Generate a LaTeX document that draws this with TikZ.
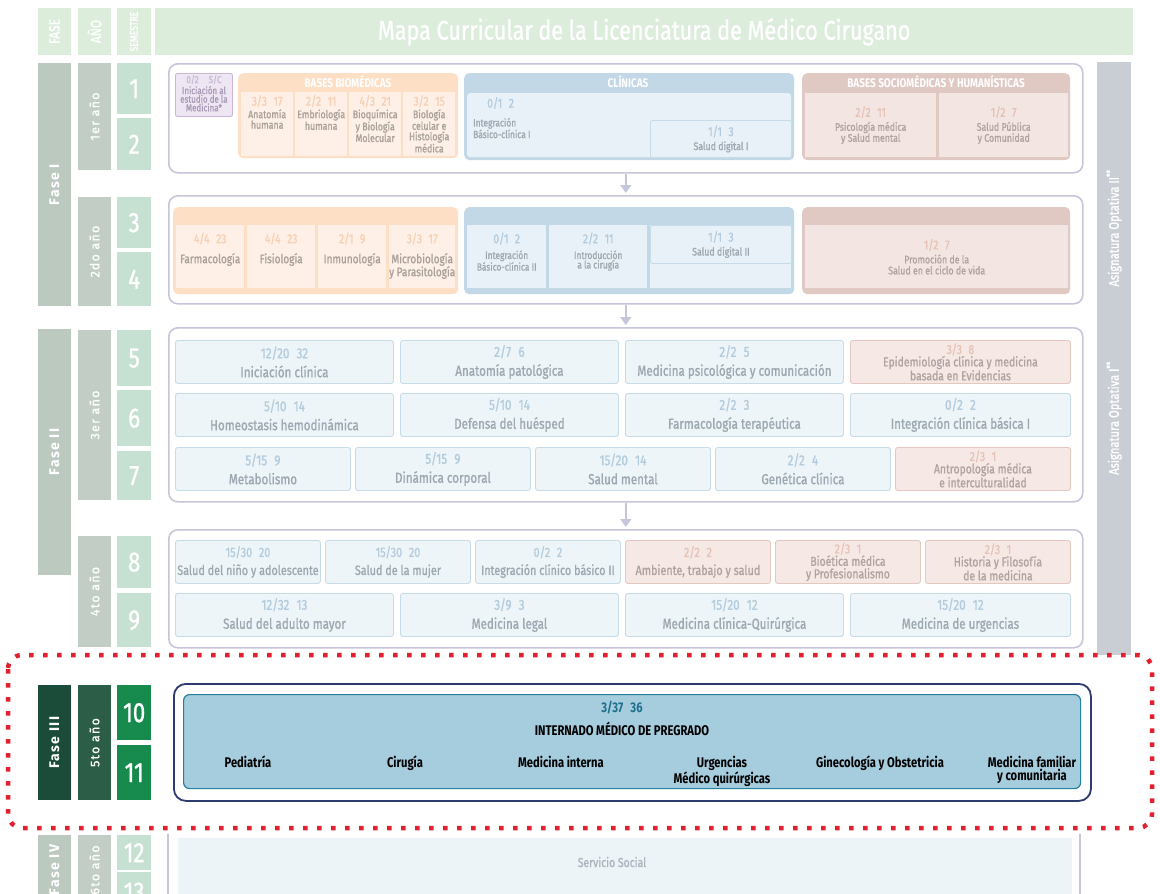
\documentclass[tikz,border=0pt]{standalone}
\usepackage{fontspec}
\setmainfont{Fira Sans}[FakeStretch=0.8,UprightFeatures={FakeBold=1}]
\newfontfamily\fasefont{Fira Sans}[LetterSpace=10,UprightFeatures={FakeBold=0.8}]
\usetikzlibrary{arrows.meta}

\definecolor{hdrgreen}{HTML}{DCEDDC}
\definecolor{fasegray}{HTML}{BCC9BF}
\definecolor{anogray}{HTML}{C2CEC5}
\definecolor{semgreen}{HTML}{C6E1D2}
\definecolor{blockline}{HTML}{C6C6DA}
\definecolor{optgray}{HTML}{C9CED4}
\definecolor{cellblue}{HTML}{EDF5F9}
\definecolor{lineblue}{HTML}{C7DCE9}
\definecolor{numblue}{HTML}{B3CBDD}
\definecolor{txtgray}{HTML}{9DA7B0}
\definecolor{cellpink}{HTML}{F6E8E4}
\definecolor{linepink}{HTML}{E4C7BE}
\definecolor{numpink}{HTML}{E6C2B6}
\definecolor{txtpink}{HTML}{B0A29E}
\definecolor{orghead}{HTML}{FDDFC6}
\definecolor{orgcell}{HTML}{FEF0E6}
\definecolor{numorg}{HTML}{F7D0B4}
\definecolor{txtorg}{HTML}{A8A099}
\definecolor{clinhead}{HTML}{C3D8E7}
\definecolor{clinbody}{HTML}{E8F1F7}
\definecolor{sochead}{HTML}{E0C9C2}
\definecolor{socbody}{HTML}{F3E6E2}
\definecolor{purplecell}{HTML}{EEE6F2}
\definecolor{purpleline}{HTML}{C9B7D8}
\definecolor{purpletxt}{HTML}{A89AB6}
\definecolor{purplenum}{HTML}{C6B8D3}
\definecolor{fasedark}{HTML}{1A4C39}
\definecolor{anodark}{HTML}{2B5D47}
\definecolor{semdark}{HTML}{178A4E}
\definecolor{intfill}{HTML}{A6CDDD}
\definecolor{intline}{HTML}{24809D}
\definecolor{intnum}{HTML}{1F6F8F}
\definecolor{navyline}{HTML}{2E3B6E}
\definecolor{dotred}{HTML}{E2202F}
\definecolor{servfill}{HTML}{EDF4F8}
\definecolor{servtxt}{HTML}{AAB4BC}

\newcommand{\nb}[1]{\textcolor{numblue}{#1}}
\newcommand{\np}[1]{\textcolor{numpink}{#1}}
\newcommand{\no}[1]{\textcolor{numorg}{#1}}
\newcommand{\bignum}[1]{{\fontsize{13}{13}\selectfont#1}}
\newcommand{\topcell}[3]{\parbox[t][#2][t]{#1}{\centering #3}}

\tikzset{
	pbox/.style 2 args={minimum width=#1pt,minimum height=#2pt,anchor=north west,inner sep=0pt},
	hdr/.style={fill=hdrgreen,text=white,inner sep=0pt},
	fasecol/.style={fill=fasegray,text=white,rotate=90,minimum height=33pt,inner sep=0pt,font=\fasefont\bfseries\fontsize{14}{14}\selectfont},
	anocol/.style={fill=anogray,text=white,rotate=90,minimum height=33pt,inner sep=0pt,font=\fasefont\fontsize{12.5}{12.5}\selectfont},
	semnum/.style={fill=semgreen,text=white,font=\fontsize{28}{28}\selectfont},
	yearbox/.style={draw=blockline,line width=1.6pt,rounded corners=9pt,fill=white},
	bcell/.style={draw=lineblue,fill=cellblue,line width=0.9pt,rounded corners=2.5pt,text=txtgray,align=center,font=\fontsize{14.5}{15}\selectfont},
	pcell/.style={bcell,draw=linepink,fill=cellpink,text=txtpink,font=\fontsize{13}{12.5}\selectfont},
	ocell/.style={fill=orgcell,text=txtorg,font=\fontsize{11}{10.5}\selectfont},
	ccell/.style={fill=clinbody,text=txtgray,font=\fontsize{10.5}{9.5}\selectfont},
	scell/.style={fill=socbody,text=txtpink,align=center,font=\fontsize{11}{11}\selectfont},
	ghead/.style={text=white,font=\bfseries\fontsize{12.5}{12.5}\selectfont,inner sep=0pt},
	arr/.style={draw=blockline,line width=1.6pt,-{Triangle[width=11pt,length=8pt]},shorten >=2pt},
	intname/.style={anchor=north,align=center,font=\bfseries\fontsize{14}{13}\selectfont,inner sep=0pt}
}

\begin{document}
\begin{tikzpicture}[x=1pt,y=-1pt]
	\useasboundingbox (0,0) rectangle (1160,894);
	\clip (0,0) rectangle (1160,894);
	% header
	\node[hdr,rotate=90,minimum width=47pt,minimum height=33pt,font=\fontsize{15}{15}\selectfont] (hfase) at (54.5,31.5) {FASE};
	\node[hdr,rotate=90,minimum width=47pt,minimum height=33pt,font=\fontsize{15}{15}\selectfont] (hano) at (94.5,31.5) {AÑO};
	\node[hdr,rotate=90,minimum width=47pt,minimum height=34pt,font=\fontsize{11}{11}\selectfont] (hsem) at (134,31.5) {SEMESTRE};
	\node[hdr,pbox={978}{47},font=\fontsize{27}{27}\selectfont] (htitle) at (155,8) {Mapa Curricular de la Licenciatura de Médico Cirugano};
	% left columns
	\node[fasecol,minimum width=243pt] (fase1) at (54.5,184.5) {Fase I};
	\node[fasecol,minimum width=246pt] (fase2) at (54.5,452) {Fase II};
	\node[anocol,minimum width=107pt] (ano1) at (94.5,116.5) {1er año};
	\node[anocol,minimum width=109pt] (ano2) at (94.5,251.5) {2do año};
	\node[anocol,minimum width=170pt] (ano3) at (94.5,415) {3er año};
	\node[anocol,minimum width=111pt] (ano4) at (94.5,591.5) {4to año};
	\foreach \s/\y/\h in {1/63/51,2/118/52,3/197/51,4/252/54,5/330/56,6/390/56,7/451/49,8/536/52,9/593/54}
		\node[semnum,pbox={34}{\h}] (sem\s) at (117,\y) {\s};
	% optativas
	\node[fill=optgray,pbox={34}{593}] (optcol) at (1097,62) {};
	\node[rotate=90,text=white,font=\fontsize{14}{14}\selectfont] (opt2) at (1114,228) {Asignatura Optativa II\textsuperscript{**}};
	\node[rotate=90,text=white,font=\fontsize{14}{14}\selectfont] (opt1) at (1114,418) {Asignatura Optativa I\textsuperscript{**}};
	% year blocks
	\node[yearbox,pbox={914}{109}] (year1) at (168,63) {};
	\node[yearbox,pbox={914}{108}] (year2) at (168,195) {};
	\node[yearbox,pbox={914}{174}] (year3) at (168,327) {};
	\node[yearbox,pbox={914}{118}] (year4) at (168,529) {};
	\draw[arr] (year1.south) -- (year2.north);
	\draw[arr] (year2.south) -- (year3.north);
	\draw[arr] (year3.south) -- (year4.north);
	% 1er ano
	\node[draw=purpleline,fill=purplecell,line width=0.9pt,rounded corners=2pt,pbox={57}{43},text=purpletxt,font=\fontsize{10}{8.6}\selectfont] (inic) at (175,73) {\topcell{55pt}{40pt}{\textcolor{purplenum}{0/2\quad S/C}\\[1pt] Iniciación al\\estudio de la\\Medicina*}};
	\node[fill=orghead,rounded corners=5pt,pbox={220}{85}] (bbio1) at (238,73) {};
	\node[ghead] (bbio1h) at (348,81.5) {BASES BIOMÉDICAS};
	\node[ocell,pbox={52}{64}] (anat) at (241,92) {\topcell{50pt}{58pt}{\no{\bignum{3/3\enspace 17}}\\[2pt] Anatomía\\humana}};
	\node[ocell,pbox={52}{64}] (embr) at (295,92) {\topcell{50pt}{58pt}{\no{\bignum{2/2\enspace 11}}\\[2pt] Embriología\\humana}};
	\node[ocell,pbox={52}{64}] (bioq) at (349,92) {\topcell{50pt}{58pt}{\no{\bignum{4/3\enspace 21}}\\[2pt] Bioquímica\\y Biología\\Molecular}};
	\node[ocell,pbox={52}{64}] (biol) at (403,92) {\topcell{50pt}{58pt}{\no{\bignum{3/2\enspace 15}}\\[2pt] Biología\\celular e\\Histología\\médica}};
	\node[fill=clinhead,rounded corners=5pt,pbox={330}{87}] (clin1) at (464,73) {};
	\node[fill=clinbody,rounded corners=3pt,pbox={324}{64}] (clin1b) at (467,93) {};
	\node[ghead] (clin1h) at (628,81.5) {CLÍNICAS};
	\node[anchor=north west,align=left,text=txtgray,font=\fontsize{10.5}{9.5}\selectfont,inner sep=0pt] (ibc1) at (473,97) {\hspace*{14pt}\nb{\bignum{0/1\enspace 2}}\\[8pt] Integración\\Básico-clínica I};
	\node[draw=lineblue,fill=clinbody,line width=0.9pt,rounded corners=2pt,pbox={141}{37},text=txtgray,align=center,font=\fontsize{11}{11}\selectfont] (sdig1) at (650,120) {\nb{\bignum{1/1\enspace 3}}\\[3pt] Salud digital I};
	\node[fill=sochead,rounded corners=5pt,pbox={268}{87}] (soc1) at (802,73) {};
	\node[ghead] (soc1h) at (936,82) {BASES SOCIOMÉDICAS Y HUMANÍSTICAS};
	\node[scell,pbox={131}{64}] (psic) at (805,93) {\np{\bignum{2/2\enspace 11}}\\[3pt] Psicología médica\\y Salud mental};
	\node[scell,pbox={129}{64}] (spub) at (939,93) {\np{\bignum{1/2\enspace 7}}\\[3pt] Salud Pública\\y Comunidad};
	% 2do ano
	\node[fill=orghead,rounded corners=5pt,pbox={285}{87}] (bbio2) at (173,207) {};
	\node[ocell,pbox={68}{63},font=\fontsize{12.5}{13}\selectfont] (farm) at (176,225) {\topcell{66pt}{48pt}{\no{\bignum{4/4\enspace 23}}\\[7pt] Farmacología}};
	\node[ocell,pbox={68}{63},font=\fontsize{12.5}{13}\selectfont] (fisi) at (247,225) {\topcell{66pt}{48pt}{\no{\bignum{4/4\enspace 23}}\\[7pt] Fisiología}};
	\node[ocell,pbox={68}{63},font=\fontsize{12.5}{13}\selectfont] (inmu) at (318,225) {\topcell{66pt}{48pt}{\no{\bignum{2/1\enspace 9}}\\[7pt] Inmunología}};
	\node[ocell,pbox={66}{63},font=\fontsize{12.5}{13}\selectfont] (micr) at (389,225) {\topcell{66pt}{48pt}{\no{\bignum{3/3\enspace 17}}\\[7pt] Microbiología\\y Parasitología}};
	\node[fill=clinhead,rounded corners=5pt,pbox={330}{87}] (clin2) at (464,207) {};
	\node[ccell,pbox={79}{63}] (ibc2) at (467,225) {\topcell{77pt}{48pt}{\nb{\bignum{0/1\enspace 2}}\\[5pt] Integración\\Básico-clínica II}};
	\node[ccell,pbox={98}{63}] (intc) at (549,225) {\topcell{96pt}{48pt}{\nb{\bignum{2/2\enspace 11}}\\[5pt] Introducción\\a la cirugía}};
	\node[ccell,pbox={141}{63}] (sdig2b) at (650,225) {};
	\node[draw=lineblue,fill=clinbody,line width=0.9pt,rounded corners=2pt,pbox={141}{38},text=txtgray,align=center,font=\fontsize{11}{11}\selectfont] (sdig2) at (650,225) {\nb{\bignum{1/1\enspace 3}}\\[3pt] Salud digital II};
	\node[fill=sochead,rounded corners=5pt,pbox={268}{87}] (soc2) at (802,207) {};
	\node[scell,pbox={263}{63}] (prom) at (805,225) {\np{\bignum{1/2\enspace 7}}\\[3pt] Promoción de la\\Salud en el ciclo de vida};
	% 3er ano
	\node[bcell,pbox={218}{43}] (inicl) at (175,340) {\nb{12/20\enspace 32}\\[4pt] Iniciación clínica};
	\node[bcell,pbox={218}{43}] (anpat) at (400,340) {\nb{2/7\enspace 6}\\[4pt] Anatomía patológica};
	\node[bcell,pbox={218}{43}] (medps) at (625,340) {\nb{2/2\enspace 5}\\[4pt] Medicina psicológica y comunicación};
	\node[pcell,pbox={220}{43}] (epid) at (850,340) {\np{3/3\enspace 8}\\ Epidemiología clínica y medicina\\basada en Evidencias};
	\node[bcell,pbox={218}{43}] (homeo) at (175,393) {\nb{5/10\enspace 14}\\[4pt] Homeostasis hemodinámica};
	\node[bcell,pbox={218}{43}] (defen) at (400,393) {\nb{5/10\enspace 14}\\[4pt] Defensa del huésped};
	\node[bcell,pbox={218}{43}] (farte) at (625,393) {\nb{2/2\enspace 3}\\[4pt] Farmacología terapéutica};
	\node[bcell,pbox={220}{43}] (intcb1) at (850,393) {\nb{0/2\enspace 2}\\[4pt] Integración clínica básica I};
	\node[bcell,pbox={175}{43}] (metab) at (175,447) {\nb{5/15\enspace 9}\\[4pt] Metabolismo};
	\node[bcell,pbox={175}{43}] (dinco) at (355,447) {\nb{5/15\enspace 9}\\[4pt] Dinámica corporal};
	\node[bcell,pbox={175}{43}] (salme) at (535,447) {\nb{15/20\enspace 14}\\[4pt] Salud mental};
	\node[bcell,pbox={175}{43}] (genet) at (715,447) {\nb{2/2\enspace 4}\\[4pt] Genética clínica};
	\node[pcell,pbox={175}{43}] (antro) at (895,447) {\np{2/3\enspace 1}\\ Antropología médica\\e interculturalidad};
	% 4to ano
	\node[bcell,pbox={145}{43},font=\fontsize{13.5}{14}\selectfont] (nino) at (175,540) {\nb{15/30\enspace 20}\\[4pt] Salud del niño y adolescente};
	\node[bcell,pbox={145}{43},font=\fontsize{13.5}{14}\selectfont] (mujer) at (325,540) {\nb{15/30\enspace 20}\\[4pt] Salud de la mujer};
	\node[bcell,pbox={145}{43},font=\fontsize{13.5}{14}\selectfont] (intcb2) at (475,540) {\nb{0/2\enspace 2}\\[4pt] Integración clínico básico II};
	\node[pcell,pbox={145}{43},font=\fontsize{13.5}{14}\selectfont] (ambie) at (625,540) {\np{2/2\enspace 2}\\[4pt] Ambiente, trabajo y salud};
	\node[pcell,pbox={145}{43}] (bioet) at (775,540) {\np{2/3\enspace 1}\\ Bioética médica\\y Profesionalismo};
	\node[pcell,pbox={145}{43}] (histo) at (925,540) {\np{2/3\enspace 1}\\ Historia y Filosofía\\de la medicina};
	\node[bcell,pbox={218}{43}] (adult) at (175,593) {\nb{12/32\enspace 13}\\[4pt] Salud del adulto mayor};
	\node[bcell,pbox={218}{43}] (legal) at (400,593) {\nb{3/9\enspace 3}\\[4pt] Medicina legal};
	\node[bcell,pbox={218}{43}] (clinq) at (625,593) {\nb{15/20\enspace 12}\\[4pt] Medicina clínica-Quirúrgica};
	\node[bcell,pbox={220}{43}] (urgen) at (850,593) {\nb{15/20\enspace 12}\\[4pt] Medicina de urgencias};
	% Fase III
	\node[fasecol,fill=fasedark,minimum width=115pt] (fase3) at (54.5,742.5) {Fase III};
	\node[anocol,fill=anodark,minimum width=115pt] (ano5) at (94.5,742.5) {5to año};
	\node[semnum,fill=semdark,pbox={34}{55}] (sem10) at (117,685) {10};
	\node[semnum,fill=semdark,pbox={34}{55}] (sem11) at (117,745) {11};
	\node[draw=navyline,line width=1.8pt,rounded corners=12pt,fill=white,pbox={917}{117}] (intout) at (173,683) {};
	\node[draw=intline,fill=intfill,line width=1.2pt,rounded corners=6pt,pbox={897}{94}] (intin) at (183,694) {};
	\node[text=intnum,font=\bfseries\fontsize{14}{14}\selectfont] (intcred) at (622,708) {3/37\enspace 36};
	\node[font=\bfseries\fontsize{14}{14}\selectfont] (inttit) at (622,729) {INTERNADO MÉDICO DE PREGRADO};
	\foreach \x/\t [count=\i] in {248/Pediatría,405/Cirugía,561/Medicina interna,722/{Urgencias\\Médico quirúrgicas},880/Ginecología y Obstetricia,1032/{Medicina familiar\\y comunitaria}}
		\node[intname] (rot\i) at (\x,756) {\t};
	% Fase IV
	\node[fasecol,minimum width=70pt] (fase4) at (54.5,870) {Fase IV};
	\node[anocol,minimum width=70pt] (ano6) at (94.5,870) {6to año};
	\node[semnum,pbox={34}{35}] (sem12) at (117,835) {12};
	\node[semnum,pbox={34}{40}] (sem13) at (117,872) {13};
	\draw[blockline,line width=1.6pt] (168,834) -- (168,894);
	\draw[blockline,line width=1.6pt] (1080,834) -- (1080,894);
	\node[fill=servfill,pbox={894}{70}] (serv) at (178,838) {};
	\node[text=servtxt,font=\fontsize{13}{13}\selectfont] (servt) at (612,862) {Servicio Social};
	% red frame
	\draw[dotred,line width=4.5pt,dash pattern=on 4.5pt off 9.5pt,rounded corners=14pt] (8,655) rectangle (1152,828);
\end{tikzpicture}
\end{document}
